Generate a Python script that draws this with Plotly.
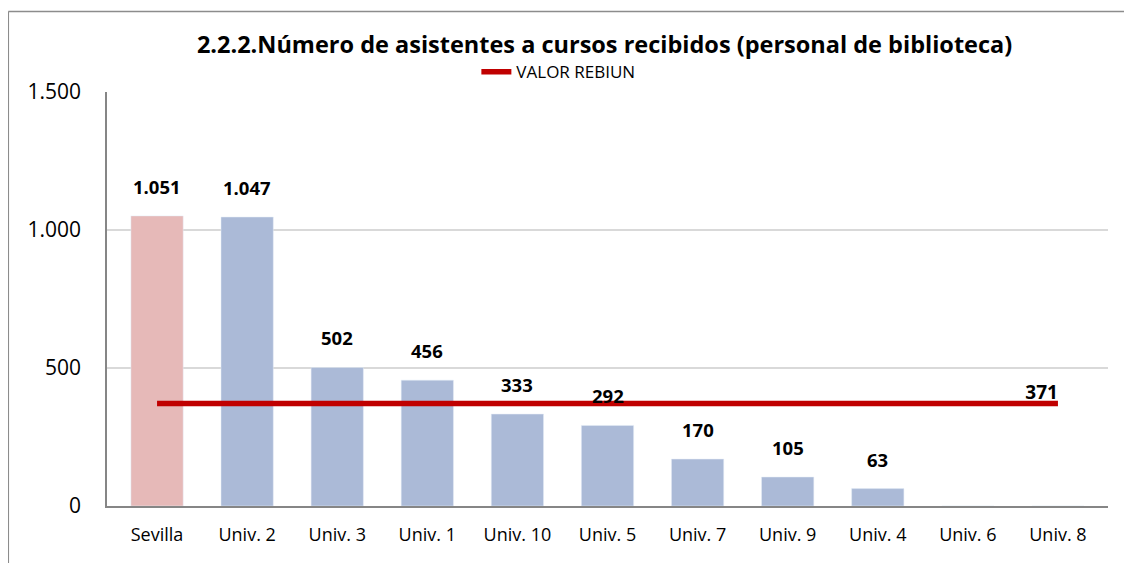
import plotly.graph_objects as go

categories = ["Sevilla", "Univ. 2", "Univ. 3", "Univ. 1", "Univ. 10", "Univ. 5",
              "Univ. 7", "Univ. 9", "Univ. 4", "Univ. 6", "Univ. 8"]
values = [1051, 1047, 502, 456, 333, 292, 170, 105, 63, 0, 0]
rebiun_value = 371
rebiun_values = [rebiun_value] * len(categories)
title_text = "2.2.2.Número de asistentes a cursos recibidos (personal de biblioteca)"
legend_name = "VALOR REBIUN"

FONT = "Open Sans"
bar_colors = ["#E6B9B8"] + ["#ABBAD7"] * (len(categories) - 1)


def fmt(v):
    return f"{v:,}".replace(",", ".")


fig = go.Figure()
fig.add_trace(go.Bar(
    x=categories, y=values, marker_color=bar_colors, width=0.58,
    showlegend=False, hoverinfo="x+y",
))
fig.add_trace(go.Scatter(
    x=categories, y=rebiun_values, mode="lines+text",
    line=dict(color="#C00000", width=5.5),
    name=legend_name,
    text=[""] * (len(categories) - 1) + [fmt(rebiun_value)],
    textposition="top left",
    textfont=dict(family=FONT, size=19, color="#000000", weight="bold"),
))

annotations = []
for c, v in zip(categories, values):
    if v > 0:
        annotations.append(dict(
            x=c, y=v, xref="x", yref="y", text="<b>" + fmt(v) + "</b>",
            showarrow=False, yanchor="bottom", yshift=15,
            font=dict(family=FONT, size=18.5, color="#000000"),
        ))

fig.update_layout(
    width=1132, height=563,
    margin=dict(l=99, r=32, t=84, b=65),
    paper_bgcolor="white", plot_bgcolor="white",
    separators=",.",
    font=dict(family=FONT, color="#000000"),
    title=dict(text="<b>" + title_text + "</b>", x=0.527, xanchor="center",
               y=1 - 37 / 563, yanchor="middle",
               font=dict(family=FONT, size=23.5, color="#000000")),
    legend=dict(orientation="h", x=0.369, xanchor="left", y=1.048, yanchor="middle",
                font=dict(family=FONT, size=17, color="#000000"),
                bgcolor="rgba(0,0,0,0)"),
    annotations=annotations,
    shapes=[
        dict(type="line", xref="paper", yref="paper", x0=-0.0986, x1=1.03,
             y0=1.1945, y1=1.1945, line=dict(color="#8C8C8C", width=1.5)),
        dict(type="line", xref="paper", yref="paper", x0=-0.0986, x1=-0.0986,
             y0=1.1945, y1=-0.14, line=dict(color="#8C8C8C", width=1.5)),
    ],
)
fig.update_yaxes(
    range=[0, 1500], tickvals=[0, 500, 1000, 1500], tickformat=",d",
    showgrid=True, gridcolor="#D9D9D9", gridwidth=1.5,
    showline=True, linecolor="#868686", linewidth=1.5,
    ticks="", ticklabelstandoff=20,
    tickfont=dict(family=FONT, size=21, color="#000000"),
    zeroline=False,
)
fig.update_xaxes(
    showline=True, linecolor="#868686", linewidth=1.5,
    ticks="", ticklabelstandoff=12,
    tickfont=dict(family=FONT, size=18, color="#000000"),
)

fig.write_html("out.html")
